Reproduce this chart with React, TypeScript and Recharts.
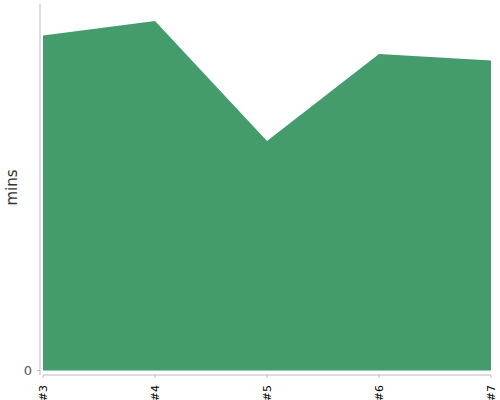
import { AreaChart, Area, XAxis, YAxis, ReferenceLine } from 'recharts';

// builds
const builds = ['#3', '#4', '#5', '#6', '#7'];
const minutes = [33.5, 34.95, 22.95, 31.65, 31.0];
const yTicks = [0];
const yDomain = [-0.45, 36.65];

const data = builds.map((build, i) => ({ build, mins: minutes[i] }));

const FONT = '"DejaVu Sans", Arial, sans-serif';

function RotatedTick(props: any) {
  const { x, y, payload } = props;
  return (
    <text
      x={0}
      y={0}
      transform={`translate(${x + 4},${y + 5}) rotate(-90)`}
      textAnchor="end"
      fontSize={11}
      fontFamily={FONT}
      fill="#000"
    >
      {payload.value}
    </text>
  );
}

export default function App() {
  return (
    <div style={{ position: 'absolute', left: 0, top: 0, width: 500, height: 400, background: '#fff' }}>
      <AreaChart
        width={500}
        height={400}
        data={data}
        margin={{ top: 4, right: 9, bottom: 0, left: 0 }}
      >
        <XAxis
          dataKey="build"
          height={25}
          padding={{ left: 3, right: 0 }}
          axisLine={false}
          tickSize={3}
          tickLine={{ stroke: '#bbb' }}
          tick={<RotatedTick />}
          interval={0}
        />
        <YAxis
          width={40}
          domain={yDomain}
          ticks={yTicks}
          tickSize={3}
          tickMargin={5}
          axisLine={{ stroke: '#bbb' }}
          tickLine={{ stroke: '#bbb' }}
          tick={{ fontSize: 13, fill: '#555', fontFamily: FONT }}
          label={{
            value: 'mins',
            angle: -90,
            position: 'center',
            dx: -8,
            dy: -2,
            style: { fontSize: 15, fill: '#333', fontFamily: FONT },
          }}
        />
        <ReferenceLine
          segment={[
            { x: builds[0], y: yDomain[0] },
            { x: builds[builds.length - 1], y: yDomain[0] },
          ]}
          stroke="#bbb"
          ifOverflow="visible"
        />
        <Area
          type="linear"
          dataKey="mins"
          stroke="none"
          fill="#449c6c"
          fillOpacity={1}
          isAnimationActive={false}
        />
      </AreaChart>
    </div>
  );
}
